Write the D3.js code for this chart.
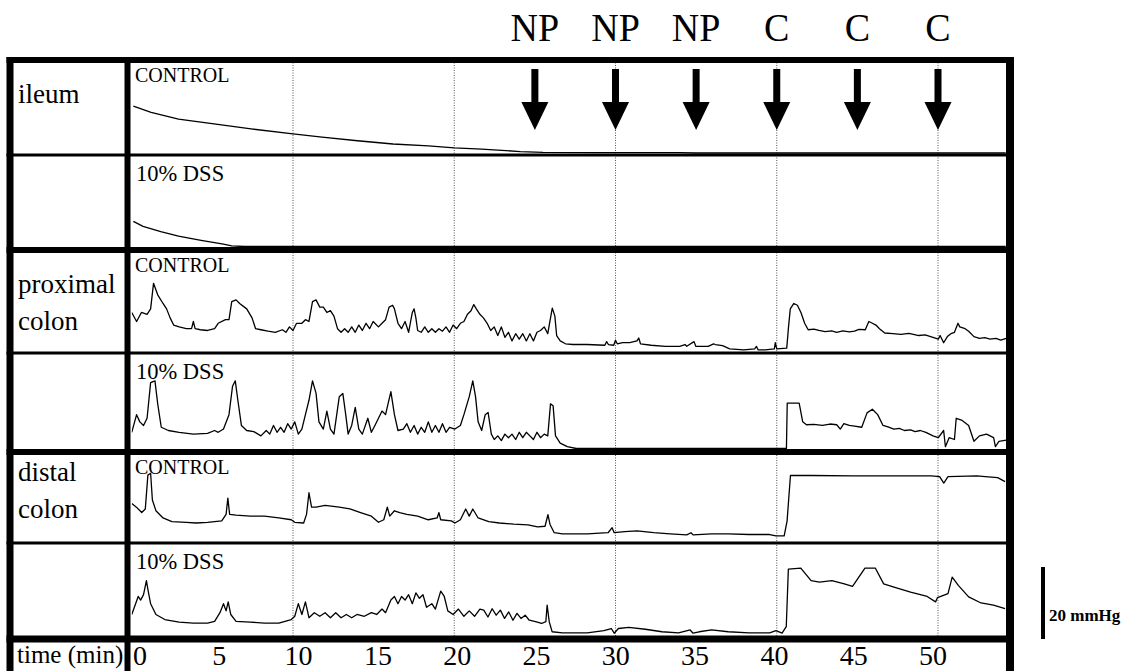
<!DOCTYPE html>
<html>
<head>
<meta charset="utf-8">
<script src="https://cdn.jsdelivr.net/npm/d3@7"></script>
<style>
html, body { margin: 0; padding: 0; background: #fff; }
svg { display: block; font-family: "Liberation Serif", "DejaVu Serif", serif; }
svg text { font-family: "Liberation Serif", "DejaVu Serif", serif; }
</style>
</head>
<body>
<svg id="chart" width="1129" height="671"></svg>
<script>
// ---- data ----
const timeTicks = [0, 5, 10, 15, 20, 25, 30, 35, 40, 45, 50];
const gridTimes = [10, 20, 30, 40, 50];
const arrowTimes = [25, 30, 35, 40, 45, 50];
const arrowLabels = ['NP', 'NP', 'NP', 'C', 'C', 'C'];
const organLabels = [['ileum'], ['proximal', 'colon'], ['distal', 'colon']];
const conditionLabels = ['CONTROL', '10% DSS'];
const scaleBarMmHg = 20;

// traces: [time (min), pressure above panel baseline (mmHg)]
const ileumControl = [[0.1,13.0],[1.2,11.3],[2.9,9.4],[5.1,8.1],[7.4,6.7],[10,5.3],[11.8,4.4],[14,3.4],[16.2,2.5],[18.4,2.0],[20,1.4],[21.7,1.1],[24.1,0.4],[25.5,0.2],[29,0.1],[34,0.1],[35,0],[54.2,0]];
const ileumDss = [[0.1,7.0],[0.7,5.6],[1.8,4.1],[2.9,2.9],[4.3,1.7],[5.6,0.7],[6.2,0.2],[7,0],[54.2,0]];

const proxControl = [[0.0,10.7],[0.3,8.2],[0.6,10.7],[0.95,10.2],[1.17,11.7],[1.35,18.8],[1.61,15.6],[1.94,13.2],[2.16,11.7],[2.38,9.2],[2.6,7.2],[2.94,6.7],[3.38,6.2],[3.71,6.2],[3.82,8.2],[3.93,6.2],[4.26,5.9],[4.7,5.7],[5.14,6.2],[5.36,7.7],[5.81,8.7],[6.03,8.7],[6.2,13.7],[6.47,14.2],[6.69,13.2],[7.13,11.7],[7.46,9.2],[7.68,6.2],[8.01,5.9],[8.45,5.5],[8.9,5.2],[9.34,5.9],[9.56,5.2],[9.78,6.7],[10.0,5.7],[10.22,7.7],[10.55,7.7],[10.77,8.7],[10.99,8.2],[11.21,13.7],[11.43,14.2],[11.66,12.2],[11.88,12.2],[12.1,10.7],[12.32,11.2],[12.54,9.7],[12.76,6.2],[12.98,5.2],[13.2,6.2],[13.42,5.2],[13.64,6.7],[13.86,5.2],[14.08,7.2],[14.3,5.7],[14.53,7.7],[14.75,6.2],[14.97,8.2],[15.3,6.7],[15.52,7.7],[15.74,8.7],[15.96,12.2],[16.18,12.7],[16.29,11.7],[16.51,7.7],[16.73,6.2],[16.95,8.2],[17.17,5.2],[17.4,10.7],[17.51,11.7],[17.62,9.2],[17.73,5.7],[17.95,5.2],[18.17,6.7],[18.39,5.2],[18.61,6.2],[18.83,5.2],[19.05,6.2],[19.27,5.5],[19.49,6.7],[19.71,5.2],[19.93,7.2],[20.15,6.2],[20.38,7.7],[20.6,8.2],[20.82,10.2],[21.04,11.2],[21.21,12.9],[21.37,11.7],[21.59,10.2],[21.81,9.2],[22.04,7.7],[22.26,5.7],[22.48,6.7],[22.7,4.3],[22.92,6.7],[23.14,3.8],[23.36,5.2],[23.58,2.8],[23.81,4.8],[24.03,3.3],[24.25,4.8],[24.47,2.8],[24.69,4.8],[24.91,2.8],[25.13,5.2],[25.35,5.7],[25.58,6.7],[25.8,4.8],[25.91,7.7],[26.08,11.9],[26.24,9.7],[26.35,4.3],[26.57,2.8],[26.9,2.0],[27.35,1.8],[28.23,1.8],[29.34,1.6],[29.45,2.6],[29.56,1.8],[29.89,1.6],[30.0,3.0],[30.11,2.0],[30.44,2.3],[30.88,2.3],[31.33,2.8],[31.44,3.6],[31.55,2.0],[32.21,1.6],[33.1,1.3],[33.98,1.3],[34.31,1.8],[34.42,1.3],[34.87,2.6],[34.98,1.3],[35.75,1.3],[36.08,2.0],[36.19,1.8],[36.64,1.5],[37.08,0.6],[37.96,0.3],[38.63,0.6],[38.74,1.3],[38.85,0.3],[39.29,0.3],[39.85,0.6],[39.91,2.3],[40.0,0.6],[40.62,0.8],[40.73,6.7],[40.84,11.7],[41.06,13.2],[41.28,12.7],[41.5,10.7],[41.73,7.7],[41.95,5.9],[42.3,6.1],[42.61,5.7],[43.0,5.4],[43.4,5.6],[43.72,5.2],[44.1,5.6],[44.5,5.3],[44.82,5.5],[45.1,6.0],[45.49,5.9],[45.71,8.2],[45.93,7.7],[46.15,7.2],[46.37,6.2],[46.7,5.0],[47.2,4.8],[47.7,4.6],[48.2,4.9],[48.81,4.3],[49.2,4.5],[49.69,3.8],[50.02,3.3],[50.13,4.3],[50.35,2.3],[50.58,4.0],[50.8,4.8],[51.02,5.2],[51.24,7.7],[51.35,6.7],[51.68,6.2],[51.9,5.5],[52.23,4.0],[52.57,3.5],[52.9,3.7],[53.23,3.3],[53.6,3.5],[53.89,3.0],[54.23,3.5]];

const proxDss = [[0.0,4.5],[0.3,9.4],[0.5,7.4],[0.73,6.4],[0.95,8.4],[1.17,18.3],[1.44,18.8],[1.61,12.4],[1.83,5.9],[2.27,5.0],[2.94,4.5],[3.82,4.0],[4.7,4.2],[5.14,5.0],[5.36,4.5],[5.69,5.4],[6.03,9.4],[6.25,17.3],[6.42,18.8],[6.58,13.4],[6.8,6.4],[7.13,5.0],[7.57,4.7],[8.01,3.5],[8.34,5.0],[8.56,4.0],[8.79,6.4],[9.01,4.5],[9.23,5.9],[9.45,4.5],[9.67,6.9],[9.89,5.4],[10.11,7.4],[10.33,4.0],[10.55,5.4],[10.77,9.4],[10.99,13.4],[11.21,18.8],[11.43,15.3],[11.61,7.4],[11.88,5.4],[12.1,10.4],[12.32,5.4],[12.54,4.0],[12.87,14.4],[13.09,15.3],[13.27,9.4],[13.42,4.0],[13.64,6.4],[13.86,11.4],[14.08,5.4],[14.3,4.0],[14.64,8.4],[14.86,4.5],[15.08,6.4],[15.3,8.4],[15.52,10.4],[15.74,9.4],[16.07,15.8],[16.29,9.4],[16.51,5.0],[16.84,5.4],[17.06,6.9],[17.28,4.5],[17.51,6.4],[17.73,4.0],[17.95,5.9],[18.17,4.5],[18.39,7.4],[18.61,4.5],[18.83,6.4],[19.05,4.5],[19.27,6.9],[19.49,4.5],[19.71,5.9],[20.04,5.4],[20.38,6.4],[20.6,9.4],[20.93,14.4],[21.15,18.8],[21.32,14.4],[21.48,7.4],[21.7,5.0],[21.92,9.4],[22.1,10.0],[22.3,4.0],[22.48,2.5],[22.7,3.5],[22.92,2.2],[23.14,4.0],[23.36,3.0],[23.58,4.0],[23.81,2.5],[24.03,4.5],[24.25,3.0],[24.47,4.5],[24.69,3.5],[24.91,2.5],[25.13,4.5],[25.35,3.0],[25.58,4.0],[25.8,3.5],[25.97,12.4],[26.13,11.9],[26.28,3.5],[26.57,1.5],[27.01,0.5],[27.57,0],[40.6,0],[40.65,12.6],[41.39,12.6],[41.61,7.4],[41.84,6.6],[42.3,6.7],[42.83,6.4],[43.3,6.8],[43.72,6.6],[43.94,5.4],[44.16,6.9],[44.5,6.4],[44.82,6.2],[45.27,5.9],[45.6,9.9],[45.93,10.9],[46.26,9.4],[46.59,6.4],[46.9,6.0],[47.26,5.4],[47.6,5.6],[47.92,5.0],[48.3,5.2],[48.58,4.7],[48.9,5.0],[49.25,4.5],[49.69,3.5],[50.02,3.0],[50.35,5.0],[50.46,0.5],[50.69,3.0],[51.02,2.5],[51.13,8.4],[51.46,7.9],[51.9,6.4],[52.23,2.0],[52.57,3.5],[53.01,4.0],[53.45,3.0],[53.56,0.5],[53.78,2.0],[54.23,2.3]];

const distControl = [[0.0,10.4],[0.29,9.4],[0.62,7.9],[0.84,8.9],[1.0,18.3],[1.17,18.8],[1.28,11.4],[1.5,8.4],[1.94,6.4],[2.49,5.4],[3.38,5.2],[4.0,5.0],[4.7,5.2],[5.58,5.6],[5.85,7.4],[5.96,11.9],[6.07,7.4],[6.47,7.2],[7.35,6.9],[8.23,6.9],[9.12,6.4],[9.89,5.9],[10.11,5.2],[10.66,5.0],[10.84,7.4],[10.99,13.4],[11.15,9.4],[11.43,9.4],[11.99,9.9],[12.87,9.4],[13.53,8.9],[14.19,7.9],[14.86,6.9],[15.3,5.2],[15.63,5.9],[15.85,9.4],[16.0,6.9],[16.29,8.4],[16.62,7.9],[17.06,7.4],[17.73,6.9],[18.39,5.9],[18.94,6.4],[19.05,7.9],[19.16,5.9],[19.82,5.6],[20.04,5.0],[20.38,5.9],[20.71,8.9],[20.93,6.9],[21.15,8.9],[21.48,6.4],[22.14,5.4],[22.8,5.0],[23.69,4.7],[24.57,4.5],[25.17,3.9],[25.63,4.1],[25.81,7.3],[25.94,4.6],[26.2,2.3],[26.71,2.0],[28.25,2.0],[29.54,2.3],[29.79,3.7],[29.92,2.3],[30.57,2.6],[31.34,2.8],[32.37,2.3],[33.39,2.0],[34.42,1.7],[34.68,2.3],[34.81,1.7],[35.96,2.0],[36.99,2.0],[38.28,1.8],[39.56,1.8],[39.95,1.4],[40.46,1.4],[40.64,5.5],[40.85,18.2],[42.13,18.2],[44.7,18.1],[47.27,18.1],[49.59,18.1],[50.1,17.9],[50.36,16.1],[50.62,17.9],[52.42,18.1],[52.93,17.9],[53.7,17.6],[54.16,16.5]];

const distDss = [[0.0,5.7],[0.24,8.7],[0.4,10.7],[0.55,9.7],[0.73,11.2],[0.91,15.1],[1.02,12.2],[1.17,8.7],[1.5,5.7],[2.05,4.3],[2.94,3.6],[3.82,3.3],[4.7,3.3],[5.14,3.8],[5.47,6.2],[5.69,8.7],[5.85,6.7],[5.98,9.2],[6.14,5.7],[6.47,3.8],[7.35,3.6],[8.23,3.3],[9.12,3.3],[9.89,4.3],[10.11,5.2],[10.33,8.7],[10.55,5.7],[10.77,9.2],[10.99,4.8],[11.32,6.2],[11.66,5.2],[11.99,6.2],[12.32,4.8],[12.65,6.2],[12.98,4.8],[13.31,5.7],[13.64,4.8],[13.97,5.7],[14.42,5.2],[14.86,6.2],[15.19,5.7],[15.52,7.2],[15.74,6.2],[16.07,9.7],[16.29,10.7],[16.51,8.7],[16.73,10.7],[16.95,9.7],[17.17,11.2],[17.4,8.7],[17.62,11.7],[17.84,10.2],[18.06,11.2],[18.28,7.7],[18.61,8.7],[18.83,7.2],[19.16,12.2],[19.38,10.7],[19.6,6.7],[19.93,5.7],[20.26,7.2],[20.6,5.2],[20.93,6.7],[21.26,5.2],[21.59,7.2],[21.83,6.9],[22.09,5.0],[22.35,7.3],[22.6,5.5],[22.86,6.9],[23.12,4.6],[23.38,6.4],[23.64,4.1],[23.89,6.0],[24.14,4.6],[24.4,5.5],[24.65,4.1],[25.04,3.7],[25.42,3.2],[25.68,3.7],[25.76,8.3],[25.89,3.7],[26.07,0.9],[26.71,0.6],[28.25,0.6],[29.28,1.2],[29.74,1.8],[29.92,0.5],[30.18,1.8],[30.82,2.1],[31.85,1.6],[32.88,0.9],[33.91,0.6],[34.63,1.4],[34.81,0.5],[35.19,0.9],[35.96,1.4],[36.99,0.9],[38.28,0.6],[39.56,0.6],[39.95,1.2],[40.33,0.5],[40.59,2.3],[40.72,18.3],[41.49,18.6],[42.13,15.1],[42.65,14.7],[43.42,15.1],[44.19,14.2],[44.7,13.5],[45.09,16.1],[45.47,18.6],[46.11,18.6],[46.63,14.2],[47.27,13.3],[48.3,11.9],[49.33,10.7],[49.85,9.2],[49.97,10.4],[50.62,11.5],[50.88,16.1],[51.26,13.8],[51.9,10.6],[52.67,8.9],[53.44,8.3],[54.16,7.3]];

const traces = [ileumControl, ileumDss, proxControl, proxDss, distControl, distDss];

// ---- layout ----
const W = 1129, H = 671;
const boxLeft = 10, boxRight = 1010, divider = 127.5;
const rowLines = [60, 155, 250, 353, 452, 543, 639];
const rowWidths = [6, 3, 6, 3, 6, 3, 7];
const pxPerMmHg = 3.6;

const svg = d3.select('#chart');
svg.append('rect').attr('width', W).attr('height', H).attr('fill', '#fff');

const x = d3.scaleLinear().domain([10, 50]).range([293, 938]);
const labelX = d3.scaleLinear().domain([0, 50]).range([140, 933]);

function panelY(i) {
    const base = rowLines[i + 1] - rowWidths[i + 1] / 2 - 0.5;
    return d3.scaleLinear().domain([0, 20]).range([base, base - 20 * pxPerMmHg]);
}

function label(g, str, tx, ty, size, anchor, sy) {
    return g.append('text')
        .attr('transform', `translate(${tx},${ty}) scale(1,${sy || 1})`)
        .style('font-family', '"Liberation Serif", "DejaVu Serif", serif')
        .attr('font-size', size)
        .attr('text-anchor', anchor || 'start')
        .attr('fill', '#000')
        .text(str);
}

// dotted grid
svg.append('g').selectAll('line').data(gridTimes).join('line')
    .attr('x1', d => x(d)).attr('x2', d => x(d))
    .attr('y1', rowLines[0]).attr('y2', rowLines[6])
    .attr('stroke', '#555').attr('stroke-width', 1).attr('stroke-dasharray', '1,1.5');

// traces
svg.append('clipPath').attr('id', 'plotClip').append('rect')
    .attr('x', x(0)).attr('y', 0).attr('width', boxRight - x(0)).attr('height', H);
const traceG = svg.append('g').attr('clip-path', 'url(#plotClip)');
traces.forEach((data, i) => {
    const y = panelY(i);
    traceG.append('path')
        .attr('d', d3.line().x(d => x(d[0])).y(d => y(d[1]))(data))
        .attr('fill', 'none').attr('stroke', '#000').attr('stroke-width', 1.3)
        .attr('stroke-linejoin', 'round');
});

// frame
const frame = svg.append('g');
frame.selectAll('line.h').data(rowLines).join('line')
    .attr('x1', boxLeft - 3.5).attr('x2', boxRight + 4)
    .attr('y1', d => d).attr('y2', d => d)
    .attr('stroke', '#000').attr('stroke-width', (d, i) => rowWidths[i]);
[[boxLeft, 7], [divider, 6], [boxRight, 8]].forEach(([vx, w]) => {
    frame.append('line').attr('x1', vx).attr('x2', vx)
        .attr('y1', rowLines[0] - 3).attr('y2', H)
        .attr('stroke', '#000').attr('stroke-width', w);
});

// row labels
const textG = svg.append('g');
const organTop = [103, 293, 481];
organLabels.forEach((lines, i) => {
    lines.forEach((s, j) => label(textG, s, 18, organTop[i] + j * 37, 27));
});
for (let i = 0; i < 6; i++) {
    const top = rowLines[i] + rowWidths[i] / 2;
    if (i % 2 === 0) label(textG, conditionLabels[0], 135, top + 19, 20);
    else label(textG, conditionLabels[1], 136, top + 24, 22.5);
}

// arrows and stimulus labels
const arrowG = svg.append('g');
arrowTimes.forEach((t, i) => {
    const ax = x(t);
    arrowG.append('rect').attr('x', ax - 3.5).attr('y', 69).attr('width', 7).attr('height', 35).attr('fill', '#000');
    arrowG.append('path').attr('d', `M${ax - 13.5},102L${ax + 13.5},102L${ax},130Z`).attr('fill', '#000');
    label(arrowG, arrowLabels[i], ax, 41, 38, 'middle', 1.05);
});

// time axis
const axisG = svg.append('g');
label(axisG, 'time (min)', 17, 663, 25);
timeTicks.forEach(t => label(axisG, String(t), labelX(t), 665, 28, 'middle'));

// scale bar
const barY = d3.scaleLinear().domain([0, scaleBarMmHg]).range([639, 639 - scaleBarMmHg * pxPerMmHg]);
svg.append('line').attr('x1', 1043).attr('x2', 1043)
    .attr('y1', barY(0)).attr('y2', barY(scaleBarMmHg))
    .attr('stroke', '#000').attr('stroke-width', 4);
label(svg, `${scaleBarMmHg} mmHg`, 1049, 621, 17).attr('font-weight', 'bold');
</script>
</body>
</html>
